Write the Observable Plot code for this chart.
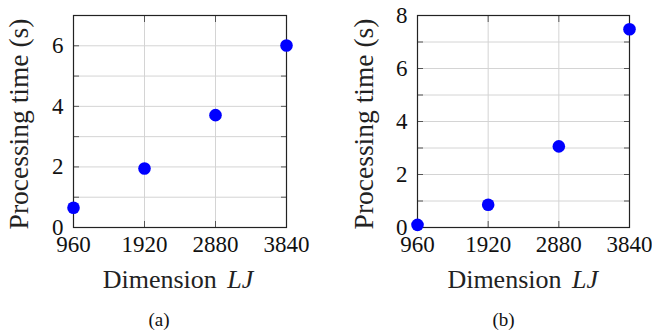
<!DOCTYPE html>
<html>
<head>
<meta charset="utf-8">
<script src="https://cdn.jsdelivr.net/npm/d3@7"></script>
<script src="https://cdn.jsdelivr.net/npm/@observablehq/plot@0.6"></script>
<style>
  html, body { margin: 0; padding: 0; background: #fff; }
  #wrap { display: flex; width: 652px; height: 335px; }
  svg { display: block; flex: none; }
</style>
</head>
<body>
<div id="wrap"></div>
<script>
const dimensions = [960, 1920, 2880, 3840];
const timesA = [0.65, 1.95, 3.71, 6.01];
const timesB = [0.10, 0.86, 3.06, 7.48];
const xTickLabels = [960, 1920, 2880, 3840];
const yMaxA = 7, yMaxB = 8;
const yLabelTicksA = [0, 2, 4, 6];
const yLabelTicksB = [0, 2, 4, 6, 8];
const captions = ["(a)", "(b)"];

const FONT = "'Liberation Serif', 'Times New Roman', serif";

function panel(times, yMax, yLabelTicks, cfg) {
  const data = dimensions.map((d, i) => ({x: d, y: times[i]}));
  const minorY = d3.range(0, yMax + 1);
  const svg = Plot.plot({
    width: 326, height: 335,
    marginLeft: cfg.ml, marginRight: cfg.mr, marginTop: 15, marginBottom: 108,
    style: {fontFamily: FONT, fontSize: "23px", background: "white", overflow: "visible"},
    x: {domain: [960, 3840]},
    y: {domain: [0, yMax]},
    marks: [
      Plot.gridX(xTickLabels, {stroke: "#d4d4d4", strokeOpacity: 1, strokeWidth: 1}),
      Plot.gridY(minorY, {stroke: "#d4d4d4", strokeOpacity: 1, strokeWidth: 1}),
      Plot.axisX(xTickLabels, {anchor: "bottom", tickSize: -6, text: null, stroke: "#555", label: null}),
      Plot.axisX(xTickLabels, {anchor: "top", tickSize: -6, text: null, stroke: "#555", label: null}),
      Plot.axisY(minorY, {anchor: "left", tickSize: -6, text: null, stroke: "#555", label: null}),
      Plot.axisY(minorY, {anchor: "right", tickSize: -6, text: null, stroke: "#555", label: null}),
      Plot.axisX(xTickLabels, {anchor: "bottom", tickSize: 0, tickPadding: 8, fontSize: 23, fill: "#111", label: null, tickFormat: d => String(d)}),
      Plot.axisY(yLabelTicks, {anchor: "left", tickSize: 0, tickPadding: 10, fontSize: 23, fill: "#111", label: null}),
      Plot.frame({stroke: "#222", strokeWidth: 1.2}),
      Plot.dot(data, {x: "x", y: "y", r: 6.3, fill: "#0000ff", stroke: null, clip: false})
    ]
  });
  const s = d3.select(svg);
  // make sure tick label font applies
  s.selectAll("g[aria-label$='tick label'] text, g[aria-label$='tick label']")
    .attr("font-family", FONT).attr("font-size", 23);
  // x axis label
  const xl = s.append("text")
    .attr("x", cfg.xLabelX).attr("y", 288)
    .attr("text-anchor", "middle")
    .attr("font-family", FONT).attr("font-size", 26).attr("fill", "#222");
  xl.append("tspan").text("Dimension ");
  xl.append("tspan").attr("font-style", "italic").attr("dx", 4).text("LJ");
  // y axis label
  s.append("text")
    .attr("transform", `translate(${cfg.yLabelX},124) rotate(-90)`)
    .attr("text-anchor", "middle")
    .attr("font-family", FONT).attr("font-size", 27.5).attr("fill", "#222")
    .text("Processing time (s)");
  // caption
  s.append("text")
    .attr("x", cfg.capX).attr("y", 326)
    .attr("text-anchor", "middle")
    .attr("font-family", FONT).attr("font-size", 19).attr("fill", "#111")
    .text(cfg.caption);
  return svg;
}

const wrap = document.getElementById("wrap");
wrap.appendChild(panel(timesA, yMaxA, yLabelTicksA, {ml: 73, mr: 40, xLabelX: 178, yLabelX: 28, capX: 159, caption: captions[0]}));
wrap.appendChild(panel(timesB, yMaxB, yLabelTicksB, {ml: 91, mr: 23, xLabelX: 196.7, yLabelX: 46.5, capX: 177.5, caption: captions[1]}));
</script>
</body>
</html>
